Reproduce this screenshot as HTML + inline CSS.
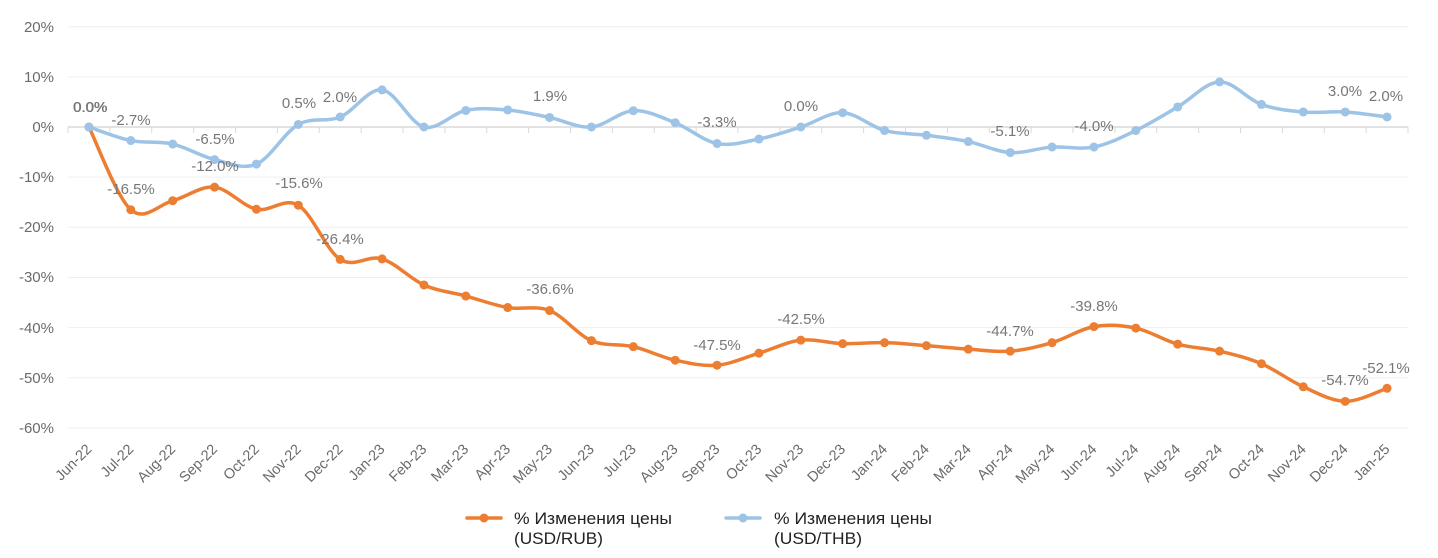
<!DOCTYPE html>
<html>
<head>
<meta charset="utf-8">
<style>
  html, body { margin: 0; padding: 0; background: #ffffff; }
  body { width: 1438px; height: 558px; overflow: hidden; }
  svg { display: block; }
  .ax { font-family: "Liberation Sans", "DejaVu Sans", sans-serif; font-size: 15px; fill: #6b6b6b; }
  .xl { font-family: "Liberation Sans", "DejaVu Sans", sans-serif; font-size: 14.5px; fill: #6b6b6b; }
  .dl { font-family: "Liberation Sans", "DejaVu Sans", sans-serif; font-size: 15px; fill: #777777; }
  .lg { font-family: "Liberation Sans", "DejaVu Sans", sans-serif; font-size: 17px; fill: #222222; }
</style>
</head>
<body>
<svg width="1438" height="558" viewBox="0 0 1438 558" xmlns="http://www.w3.org/2000/svg">
  <!-- gridlines -->
  <g stroke="#efefef" stroke-width="1">
    <line x1="68" y1="26.7" x2="1408" y2="26.7"/>
    <line x1="68" y1="76.85" x2="1408" y2="76.85"/>
    <line x1="68" y1="177.15" x2="1408" y2="177.15"/>
    <line x1="68" y1="227.3" x2="1408" y2="227.3"/>
    <line x1="68" y1="277.45" x2="1408" y2="277.45"/>
    <line x1="68" y1="327.6" x2="1408" y2="327.6"/>
    <line x1="68" y1="377.75" x2="1408" y2="377.75"/>
    <line x1="68" y1="427.9" x2="1408" y2="427.9"/>
  </g>
  <!-- zero axis -->
  <line x1="68" y1="127" x2="1408" y2="127" stroke="#d9d9d9" stroke-width="1.5"/>
  <g stroke="#d9d9d9" stroke-width="1">
    <line x1="68" y1="127" x2="68" y2="133"/>
    <line x1="109.88" y1="127" x2="109.88" y2="133"/>
    <line x1="151.75" y1="127" x2="151.75" y2="133"/>
    <line x1="193.63" y1="127" x2="193.63" y2="133"/>
    <line x1="235.5" y1="127" x2="235.5" y2="133"/>
    <line x1="277.38" y1="127" x2="277.38" y2="133"/>
    <line x1="319.25" y1="127" x2="319.25" y2="133"/>
    <line x1="361.13" y1="127" x2="361.13" y2="133"/>
    <line x1="403" y1="127" x2="403" y2="133"/>
    <line x1="444.88" y1="127" x2="444.88" y2="133"/>
    <line x1="486.75" y1="127" x2="486.75" y2="133"/>
    <line x1="528.63" y1="127" x2="528.63" y2="133"/>
    <line x1="570.5" y1="127" x2="570.5" y2="133"/>
    <line x1="612.38" y1="127" x2="612.38" y2="133"/>
    <line x1="654.25" y1="127" x2="654.25" y2="133"/>
    <line x1="696.13" y1="127" x2="696.13" y2="133"/>
    <line x1="738" y1="127" x2="738" y2="133"/>
    <line x1="779.88" y1="127" x2="779.88" y2="133"/>
    <line x1="821.75" y1="127" x2="821.75" y2="133"/>
    <line x1="863.63" y1="127" x2="863.63" y2="133"/>
    <line x1="905.5" y1="127" x2="905.5" y2="133"/>
    <line x1="947.38" y1="127" x2="947.38" y2="133"/>
    <line x1="989.25" y1="127" x2="989.25" y2="133"/>
    <line x1="1031.13" y1="127" x2="1031.13" y2="133"/>
    <line x1="1073" y1="127" x2="1073" y2="133"/>
    <line x1="1114.88" y1="127" x2="1114.88" y2="133"/>
    <line x1="1156.75" y1="127" x2="1156.75" y2="133"/>
    <line x1="1198.63" y1="127" x2="1198.63" y2="133"/>
    <line x1="1240.5" y1="127" x2="1240.5" y2="133"/>
    <line x1="1282.38" y1="127" x2="1282.38" y2="133"/>
    <line x1="1324.25" y1="127" x2="1324.25" y2="133"/>
    <line x1="1366.13" y1="127" x2="1366.13" y2="133"/>
    <line x1="1408" y1="127" x2="1408" y2="133"/>
  </g>

  <!-- y axis labels -->
  <g class="ax" text-anchor="end">
    <text x="54" y="32">20%</text>
    <text x="54" y="82">10%</text>
    <text x="54" y="132">0%</text>
    <text x="54" y="182">-10%</text>
    <text x="54" y="232">-20%</text>
    <text x="54" y="282">-30%</text>
    <text x="54" y="333">-40%</text>
    <text x="54" y="383">-50%</text>
    <text x="54" y="433">-60%</text>
  </g>

  <!-- x axis labels -->
  <g class="xl" text-anchor="end">
    <text transform="translate(92.5,450) rotate(-45)">Jun-22</text>
    <text transform="translate(134.3,450) rotate(-45)">Jul-22</text>
    <text transform="translate(176.2,450) rotate(-45)">Aug-22</text>
    <text transform="translate(218.1,450) rotate(-45)">Sep-22</text>
    <text transform="translate(259.9,450) rotate(-45)">Oct-22</text>
    <text transform="translate(301.8,450) rotate(-45)">Nov-22</text>
    <text transform="translate(343.7,450) rotate(-45)">Dec-22</text>
    <text transform="translate(385.6,450) rotate(-45)">Jan-23</text>
    <text transform="translate(427.4,450) rotate(-45)">Feb-23</text>
    <text transform="translate(469.3,450) rotate(-45)">Mar-23</text>
    <text transform="translate(511.2,450) rotate(-45)">Apr-23</text>
    <text transform="translate(553.1,450) rotate(-45)">May-23</text>
    <text transform="translate(594.9,450) rotate(-45)">Jun-23</text>
    <text transform="translate(636.8,450) rotate(-45)">Jul-23</text>
    <text transform="translate(678.7,450) rotate(-45)">Aug-23</text>
    <text transform="translate(720.6,450) rotate(-45)">Sep-23</text>
    <text transform="translate(762.4,450) rotate(-45)">Oct-23</text>
    <text transform="translate(804.3,450) rotate(-45)">Nov-23</text>
    <text transform="translate(846.2,450) rotate(-45)">Dec-23</text>
    <text transform="translate(888.1,450) rotate(-45)">Jan-24</text>
    <text transform="translate(929.9,450) rotate(-45)">Feb-24</text>
    <text transform="translate(971.8,450) rotate(-45)">Mar-24</text>
    <text transform="translate(1013.7,450) rotate(-45)">Apr-24</text>
    <text transform="translate(1055.6,450) rotate(-45)">May-24</text>
    <text transform="translate(1097.4,450) rotate(-45)">Jun-24</text>
    <text transform="translate(1139.3,450) rotate(-45)">Jul-24</text>
    <text transform="translate(1181.2,450) rotate(-45)">Aug-24</text>
    <text transform="translate(1223.1,450) rotate(-45)">Sep-24</text>
    <text transform="translate(1264.9,450) rotate(-45)">Oct-24</text>
    <text transform="translate(1306.8,450) rotate(-45)">Nov-24</text>
    <text transform="translate(1348.7,450) rotate(-45)">Dec-24</text>
    <text transform="translate(1390.6,450) rotate(-45)">Jan-25</text>
  </g>

  <!-- RUB series -->
  <path fill="none" stroke="#ED7D31" stroke-width="3.5" stroke-linejoin="round" stroke-linecap="round"
    d="M88.94,127.00 C95.92,140.79 116.85,197.46 130.81,209.75 C144.77,222.04 158.73,204.48 172.69,200.72 C186.65,196.96 200.60,185.76 214.56,187.18 C228.52,188.60 242.48,206.24 256.44,209.25 C270.40,212.26 284.35,196.87 298.31,205.23 C312.27,213.59 326.23,250.46 340.19,259.40 C354.15,268.34 368.10,254.63 382.06,258.89 C396.02,263.15 409.98,278.78 423.94,284.97 C437.90,291.16 451.85,292.25 465.81,296.01 C479.77,299.77 493.73,305.12 507.69,307.54 C521.65,309.96 535.60,305.03 549.56,310.55 C563.52,316.07 577.48,334.62 591.44,340.64 C605.40,346.66 619.35,343.40 633.31,346.66 C647.27,349.92 661.23,357.11 675.19,360.20 C689.15,363.29 703.10,366.38 717.06,365.21 C731.02,364.04 744.98,357.36 758.94,353.18 C772.90,349.00 786.85,341.73 800.81,340.14 C814.77,338.55 828.73,343.23 842.69,343.65 C856.65,344.07 870.60,342.32 884.56,342.65 C898.52,342.98 912.48,344.56 926.44,345.65 C940.40,346.74 954.35,348.24 968.31,349.16 C982.27,350.08 996.23,352.26 1010.19,351.17 C1024.15,350.08 1038.10,346.75 1052.06,342.65 C1066.02,338.55 1079.98,329.03 1093.94,326.60 C1107.90,324.17 1121.85,325.17 1135.81,328.10 C1149.77,331.03 1163.73,340.30 1177.69,344.15 C1191.65,348.00 1205.60,347.91 1219.56,351.17 C1233.52,354.43 1247.48,357.77 1261.44,363.71 C1275.40,369.65 1289.35,380.51 1303.31,386.78 C1317.27,393.05 1331.23,401.07 1345.19,401.32 C1359.15,401.57 1380.08,390.45 1387.06,388.28"/>
  <g fill="#ED7D31">
    <circle cx="88.94" cy="127.00" r="4.5"/>
    <circle cx="130.81" cy="209.75" r="4.5"/>
    <circle cx="172.69" cy="200.72" r="4.5"/>
    <circle cx="214.56" cy="187.18" r="4.5"/>
    <circle cx="256.44" cy="209.25" r="4.5"/>
    <circle cx="298.31" cy="205.23" r="4.5"/>
    <circle cx="340.19" cy="259.40" r="4.5"/>
    <circle cx="382.06" cy="258.89" r="4.5"/>
    <circle cx="423.94" cy="284.97" r="4.5"/>
    <circle cx="465.81" cy="296.01" r="4.5"/>
    <circle cx="507.69" cy="307.54" r="4.5"/>
    <circle cx="549.56" cy="310.55" r="4.5"/>
    <circle cx="591.44" cy="340.64" r="4.5"/>
    <circle cx="633.31" cy="346.66" r="4.5"/>
    <circle cx="675.19" cy="360.20" r="4.5"/>
    <circle cx="717.06" cy="365.21" r="4.5"/>
    <circle cx="758.94" cy="353.18" r="4.5"/>
    <circle cx="800.81" cy="340.14" r="4.5"/>
    <circle cx="842.69" cy="343.65" r="4.5"/>
    <circle cx="884.56" cy="342.65" r="4.5"/>
    <circle cx="926.44" cy="345.65" r="4.5"/>
    <circle cx="968.31" cy="349.16" r="4.5"/>
    <circle cx="1010.19" cy="351.17" r="4.5"/>
    <circle cx="1052.06" cy="342.65" r="4.5"/>
    <circle cx="1093.94" cy="326.60" r="4.5"/>
    <circle cx="1135.81" cy="328.10" r="4.5"/>
    <circle cx="1177.69" cy="344.15" r="4.5"/>
    <circle cx="1219.56" cy="351.17" r="4.5"/>
    <circle cx="1261.44" cy="363.71" r="4.5"/>
    <circle cx="1303.31" cy="386.78" r="4.5"/>
    <circle cx="1345.19" cy="401.32" r="4.5"/>
    <circle cx="1387.06" cy="388.28" r="4.5"/>
  </g>

  <!-- THB series -->
  <path fill="none" stroke="#9DC3E6" stroke-width="3.5" stroke-linejoin="round" stroke-linecap="round"
    d="M88.94,127.00 C95.92,129.26 116.85,137.70 130.81,140.54 C144.77,143.38 158.73,140.87 172.69,144.05 C186.65,147.23 200.60,156.26 214.56,159.60 C228.52,162.94 242.48,169.96 256.44,164.11 C270.40,158.26 284.35,132.35 298.31,124.49 C312.27,116.63 326.23,122.74 340.19,116.97 C354.15,111.20 368.10,88.22 382.06,89.89 C396.02,91.56 409.98,123.57 423.94,127.00 C437.90,130.43 451.85,113.29 465.81,110.45 C479.77,107.61 493.73,108.78 507.69,109.95 C521.65,111.12 535.60,114.63 549.56,117.47 C563.52,120.31 577.48,128.13 591.44,127.00 C605.40,125.87 619.35,111.41 633.31,110.70 C647.27,109.99 661.23,117.26 675.19,122.74 C689.15,128.22 703.10,140.83 717.06,143.55 C731.02,146.27 744.98,141.80 758.94,139.04 C772.90,136.28 786.85,131.39 800.81,127.00 C814.77,122.61 828.73,112.12 842.69,112.71 C856.65,113.30 870.60,126.75 884.56,130.51 C898.52,134.27 912.48,133.43 926.44,135.27 C940.40,137.11 954.35,138.65 968.31,141.54 C982.27,144.43 996.23,151.66 1010.19,152.58 C1024.15,153.50 1038.10,147.98 1052.06,147.06 C1066.02,146.14 1079.98,149.82 1093.94,147.06 C1107.90,144.30 1121.85,137.20 1135.81,130.51 C1149.77,123.82 1163.73,115.05 1177.69,106.94 C1191.65,98.83 1205.60,82.29 1219.56,81.87 C1233.52,81.45 1247.48,99.41 1261.44,104.43 C1275.40,109.45 1289.35,110.70 1303.31,111.96 C1317.27,113.22 1331.23,111.12 1345.19,111.96 C1359.15,112.80 1380.08,116.13 1387.06,116.97"/>
  <g fill="#9DC3E6">
    <circle cx="88.94" cy="127.00" r="4.5"/>
    <circle cx="130.81" cy="140.54" r="4.5"/>
    <circle cx="172.69" cy="144.05" r="4.5"/>
    <circle cx="214.56" cy="159.60" r="4.5"/>
    <circle cx="256.44" cy="164.11" r="4.5"/>
    <circle cx="298.31" cy="124.49" r="4.5"/>
    <circle cx="340.19" cy="116.97" r="4.5"/>
    <circle cx="382.06" cy="89.89" r="4.5"/>
    <circle cx="423.94" cy="127.00" r="4.5"/>
    <circle cx="465.81" cy="110.45" r="4.5"/>
    <circle cx="507.69" cy="109.95" r="4.5"/>
    <circle cx="549.56" cy="117.47" r="4.5"/>
    <circle cx="591.44" cy="127.00" r="4.5"/>
    <circle cx="633.31" cy="110.70" r="4.5"/>
    <circle cx="675.19" cy="122.74" r="4.5"/>
    <circle cx="717.06" cy="143.55" r="4.5"/>
    <circle cx="758.94" cy="139.04" r="4.5"/>
    <circle cx="800.81" cy="127.00" r="4.5"/>
    <circle cx="842.69" cy="112.71" r="4.5"/>
    <circle cx="884.56" cy="130.51" r="4.5"/>
    <circle cx="926.44" cy="135.27" r="4.5"/>
    <circle cx="968.31" cy="141.54" r="4.5"/>
    <circle cx="1010.19" cy="152.58" r="4.5"/>
    <circle cx="1052.06" cy="147.06" r="4.5"/>
    <circle cx="1093.94" cy="147.06" r="4.5"/>
    <circle cx="1135.81" cy="130.51" r="4.5"/>
    <circle cx="1177.69" cy="106.94" r="4.5"/>
    <circle cx="1219.56" cy="81.87" r="4.5"/>
    <circle cx="1261.44" cy="104.43" r="4.5"/>
    <circle cx="1303.31" cy="111.96" r="4.5"/>
    <circle cx="1345.19" cy="111.96" r="4.5"/>
    <circle cx="1387.06" cy="116.97" r="4.5"/>
  </g>

  <!-- data labels -->
  <g class="dl" text-anchor="middle">
    <!-- RUB -->
    <text x="90" y="112">0.0%</text>
    <text x="131" y="194">-16.5%</text>
    <text x="215" y="171">-12.0%</text>
    <text x="299" y="188">-15.6%</text>
    <text x="340" y="244">-26.4%</text>
    <text x="550" y="294">-36.6%</text>
    <text x="717" y="350">-47.5%</text>
    <text x="801" y="324">-42.5%</text>
    <text x="1010" y="336">-44.7%</text>
    <text x="1094" y="311">-39.8%</text>
    <text x="1345" y="385">-54.7%</text>
    <text x="1386" y="373">-52.1%</text>
    <!-- THB -->
    <text x="90.5" y="112">0.0%</text>
    <text x="131" y="125">-2.7%</text>
    <text x="215" y="144">-6.5%</text>
    <text x="299" y="108">0.5%</text>
    <text x="340" y="102">2.0%</text>
    <text x="550" y="101">1.9%</text>
    <text x="717" y="127">-3.3%</text>
    <text x="801" y="111">0.0%</text>
    <text x="1010" y="136">-5.1%</text>
    <text x="1094" y="131">-4.0%</text>
    <text x="1345" y="96">3.0%</text>
    <text x="1386" y="101">2.0%</text>
  </g>

  <!-- legend -->
  <line x1="467" y1="518" x2="501" y2="518" stroke="#ED7D31" stroke-width="3.5" stroke-linecap="round"/>
  <circle cx="484" cy="518" r="4.5" fill="#ED7D31"/>
  <text class="lg" x="514" y="524" textLength="158" lengthAdjust="spacingAndGlyphs">% Изменения цены</text>
  <text class="lg" x="514" y="544" textLength="89" lengthAdjust="spacingAndGlyphs">(USD/RUB)</text>

  <line x1="726" y1="518" x2="760" y2="518" stroke="#9DC3E6" stroke-width="3.5" stroke-linecap="round"/>
  <circle cx="743" cy="518" r="4.5" fill="#9DC3E6"/>
  <text class="lg" x="774" y="524" textLength="158" lengthAdjust="spacingAndGlyphs">% Изменения цены</text>
  <text class="lg" x="774" y="544" textLength="88" lengthAdjust="spacingAndGlyphs">(USD/THB)</text>
</svg>
</body>
</html>
